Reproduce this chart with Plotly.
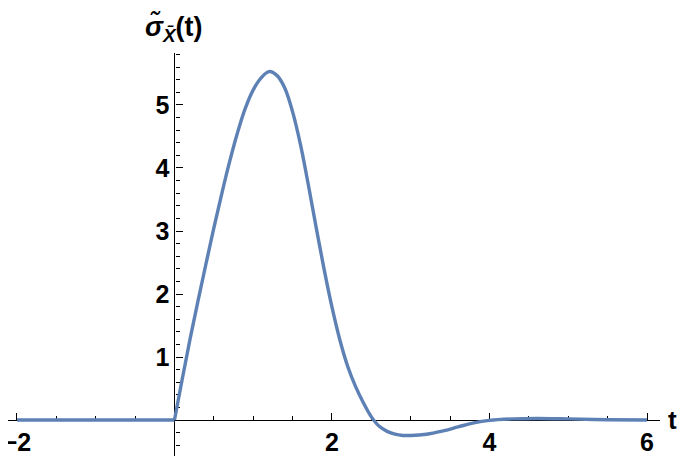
import plotly.graph_objects as go

# values
t_flat = [-2.0, -1.0, 0.0]
sigma_flat = [0.0, 0.0, 0.0]

t_pulse = [0.0, 0.1, 0.2, 0.3, 0.4, 0.5, 0.6, 0.7, 0.8, 0.9, 1.0, 1.1, 1.2, 1.3,
           1.4, 1.5, 1.6, 1.7, 1.8, 1.9, 2.0, 2.1, 2.2, 2.3, 2.4, 2.5, 2.6, 2.7,
           2.8, 2.9, 3.0, 3.2, 3.4, 3.6, 3.8, 4.0, 4.3, 4.6, 5.0, 5.5, 6.0]
sigma_pulse = [0.0, 0.66, 1.30, 1.90, 2.48, 3.05, 3.59, 4.10, 4.56, 4.95, 5.24,
               5.43, 5.53, 5.47, 5.27, 4.89, 4.37, 3.73, 3.05, 2.39, 1.79, 1.27,
               0.85, 0.53, 0.27, 0.05, -0.10, -0.18, -0.225, -0.245, -0.245, -0.225,
               -0.175, -0.11, -0.045, -0.005, 0.018, 0.025, 0.018, 0.005, 0.0]

x_ticks = [-2, 2, 4, 6]
x_labels = ['−2', '2', '4', '6']
y_ticks = [1, 2, 3, 4, 5]

X_RANGE = [-2.114, 6.165]
Y_RANGE = [-0.571, 5.825]

LINE_COLOR = '#5E81B5'
FONT = 'Liberation Sans'

fig = go.Figure()
fig.add_trace(go.Scatter(x=t_flat, y=sigma_flat, mode='lines',
                         line=dict(color=LINE_COLOR, width=3.4), showlegend=False))
fig.add_trace(go.Scatter(x=t_pulse, y=sigma_pulse, mode='lines',
                         line=dict(color=LINE_COLOR, width=3.4, shape='spline', smoothing=1),
                         showlegend=False))

# axes cross at the origin, Mathematica style
x_pos = -Y_RANGE[0] / (Y_RANGE[1] - Y_RANGE[0])
y_pos = -X_RANGE[0] / (X_RANGE[1] - X_RANGE[0])

fig.update_xaxes(
    range=X_RANGE, anchor='free', position=x_pos, side='bottom',
    showline=True, linecolor='black', linewidth=1.3, layer='below traces',
    showgrid=False, zeroline=False, automargin=False, ticklabeloverflow='allow',
    tickvals=x_ticks, ticktext=x_labels,
    ticks='inside', ticklen=7, tickwidth=1.3, tickcolor='black',
    minor=dict(dtick=0.5, tick0=0, ticks='inside', ticklen=4, tickwidth=1, tickcolor='black'),
    tickfont=dict(family=FONT, size=25, color='black', weight='bold'),
)
fig.update_yaxes(
    range=Y_RANGE, anchor='free', position=y_pos, side='left',
    showline=True, linecolor='black', linewidth=1.3, layer='below traces',
    showgrid=False, zeroline=False, automargin=False, ticklabeloverflow='allow',
    tickvals=y_ticks, ticks='inside', ticklen=7, tickwidth=1.3, tickcolor='black',
    minor=dict(dtick=0.2, tick0=0, ticks='inside', ticklen=4, tickwidth=1, tickcolor='black'),
    tickfont=dict(family=FONT, size=25, color='black', weight='bold'),
)

# axis labels
fig.add_annotation(x=0, y=1, xref='x', yref='paper', yshift=25,
                   xanchor='center', yanchor='middle',
                   text='<b><i>σ̃</i><sub><i>X̄</i></sub>(t)</b>', showarrow=False,
                   font=dict(family=FONT, size=27, color='black'))
fig.add_annotation(x=1, y=0, xref='paper', yref='y', xshift=12,
                   xanchor='center', yanchor='middle',
                   text='<b>t</b>', showarrow=False,
                   font=dict(family=FONT, size=26, color='black'))

fig.update_layout(
    width=677, height=448,
    margin=dict(l=0, r=25, t=45, b=0),
    plot_bgcolor='white', paper_bgcolor='white',
)

fig.write_html("out.html")
